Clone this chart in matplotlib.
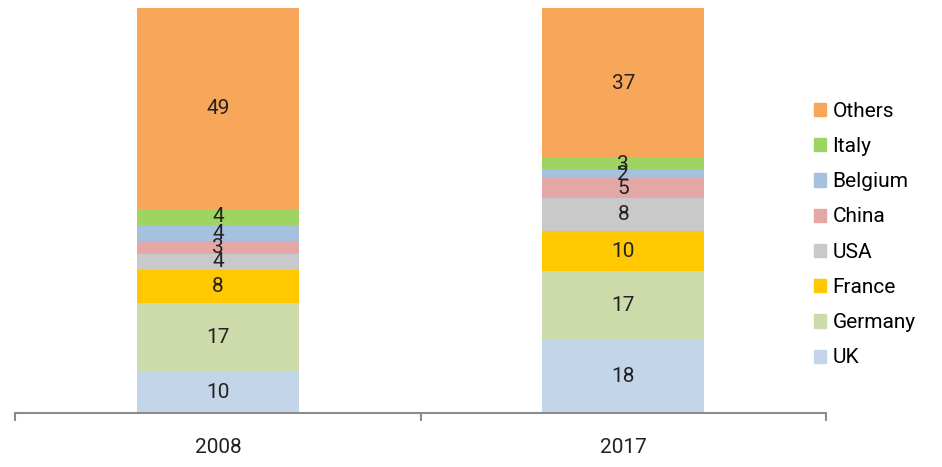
import numpy as np
import matplotlib
matplotlib.use('Agg')
import matplotlib.pyplot as plt
from matplotlib.patches import Patch

plt.rcParams['font.family'] = ['Roboto', 'DejaVu Sans']

# dane
years = ['2008', '2017']
countries = ['UK', 'Germany', 'France', 'USA', 'China', 'Belgium', 'Italy', 'Others']
uk = [10, 18]
germany = [17, 17]
france = [8, 10]
usa = [4, 8]
china = [3, 5]
belgium = [4, 2]
italy = [4, 3]
others = [49, 37]

colors = ['#c3d6e9', '#cddbab', '#ffc800', '#c9c9c9', '#e3a7a6', '#a5c1de', '#9fd462', '#f8a65a']

values = np.array([uk, germany, france, usa, china, belgium, italy, others], dtype=float)
totals = values.sum(axis=0)
shares = values / totals * 100

fig = plt.figure(figsize=(9.42, 4.67), dpi=100)
ax = fig.add_axes([0.016, 0.1156, 0.861, 0.867])

x = np.arange(len(years))
bottom = np.zeros(len(years))
for i, name in enumerate(countries):
    ax.bar(x, shares[i], 0.4, bottom=bottom, color=colors[i], label=name)
    for j in range(len(years)):
        ax.text(x[j], bottom[j] + shares[i][j] / 2, f'{int(values[i][j])}',
                ha='center', va='center', fontsize=15, color='#222222')
    bottom += shares[i]

ax.set_xlim(-0.5, 1.5)
ax.set_ylim(0, 100)
for s in ['top', 'right', 'left']:
    ax.spines[s].set_visible(False)
ax.spines['bottom'].set_color('#8c8c8c')
ax.spines['bottom'].set_linewidth(1.5)
ax.set_yticks([])
ax.set_xticks(x)
ax.set_xticklabels(years, fontsize=15, color='#222222')
ax.tick_params(axis='x', which='major', length=0, pad=18)
ax.set_xticks([-0.5, 0.5, 1.5], minor=True)
ax.tick_params(axis='x', which='minor', length=6, width=1.5, color='#8c8c8c')

handles = [Patch(color=colors[i], label=countries[i]) for i in range(len(countries))][::-1]
fig.legend(handles=handles, loc='upper left', bbox_to_anchor=(0.855, 0.80),
           frameon=False, fontsize=15, handlelength=0.6, handleheight=0.6,
           handletextpad=0.3, labelspacing=0.78, borderaxespad=0)

plt.savefig('out.png', dpi=100)
